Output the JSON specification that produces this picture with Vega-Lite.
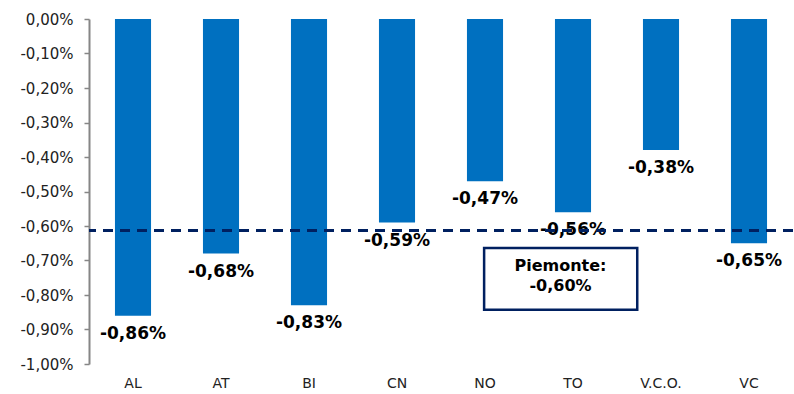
{
  "$schema": "https://vega.github.io/schema/vega-lite/v6.json",
  "width": 704,
  "height": 345,
  "autosize": {"type": "none"},
  "padding": {"left": 89, "top": 19, "right": 1, "bottom": 30},
  "config": {
    "view": {"stroke": null},
    "font": "DejaVu Sans",
    "locale": {
      "number": {"decimal": ",", "thousands": ".", "grouping": [3], "currency": ["€", ""], "minus": "-"}
    }
  },
  "datasets": {
    "bars": [
      {"prov": "AL", "v": -0.0086},
      {"prov": "AT", "v": -0.0068},
      {"prov": "BI", "v": -0.0083},
      {"prov": "CN", "v": -0.0059},
      {"prov": "NO", "v": -0.0047},
      {"prov": "TO", "v": -0.0056},
      {"prov": "V.C.O.", "v": -0.0038},
      {"prov": "VC", "v": -0.0065}
    ],
    "avg": [{"v": -0.00613}],
    "box": [{"x1": 4.49, "x2": 6.23, "v": -0.00664, "v2": -0.00843}],
    "boxtext": [
      {"xc": 5.358, "v": -0.00716, "t": "Piemonte:"},
      {"xc": 5.358, "v": -0.00774, "t": "-0,60%"}
    ]
  },
  "encoding": {
    "y": {
      "field": "v", "type": "quantitative",
      "scale": {"domain": [-0.01, 0], "nice": false},
      "axis": {"title": null, "format": ".2%", "tickCount": 11, "labelOverlap": false, "labelSeparation": 0, "labelFlush": false, "grid": false, "domainColor": "#868686", "domainWidth": 2, "tickColor": "#868686", "tickSize": 5, "tickWidth": 1.5, "labelPadding": 11, "labelFontSize": 15, "labelColor": "#222"}
    }
  },
  "layer": [
    {
      "data": {"name": "bars"},
      "mark": {"type": "bar", "color": "#0070C0"},
      "encoding": {
        "x": {
          "field": "prov", "type": "nominal", "sort": null,
          "scale": {"paddingInner": 0.59, "paddingOuter": 0.295},
          "axis": {"title": null, "domain": false, "ticks": false, "labelAngle": 0, "labelPadding": 12, "labelFontSize": 14, "labelColor": "#222"}
        }
      }
    },
    {
      "data": {"name": "bars"},
      "mark": {"type": "text", "baseline": "top", "dy": 10, "fontWeight": "bold", "fontSize": 17, "color": "#000"},
      "encoding": {
        "x": {"field": "prov", "type": "nominal", "sort": null, "axis": null},
        "text": {"field": "v", "type": "quantitative", "format": ".2%"}
      }
    },
    {
      "data": {"name": "avg"},
      "mark": {"type": "rule", "color": "#002060", "strokeWidth": 3, "strokeDash": [10, 7]},
      "encoding": {}
    },
    {
      "data": {"name": "box"},
      "mark": {"type": "rect", "fill": "white", "stroke": "#002060", "strokeWidth": 2.5},
      "encoding": {
        "x": {"field": "x1", "type": "quantitative", "scale": {"domain": [0, 8]}, "axis": null},
        "x2": {"field": "x2"},
        "y2": {"field": "v2"}
      }
    },
    {
      "data": {"name": "boxtext"},
      "mark": {"type": "text", "fontWeight": "bold", "fontSize": 16, "color": "#000", "baseline": "middle"},
      "encoding": {
        "x": {"field": "xc", "type": "quantitative", "scale": {"domain": [0, 8]}, "axis": null},
        "text": {"field": "t"}
      }
    }
  ],
  "resolve": {"scale": {"x": "independent"}}
}
